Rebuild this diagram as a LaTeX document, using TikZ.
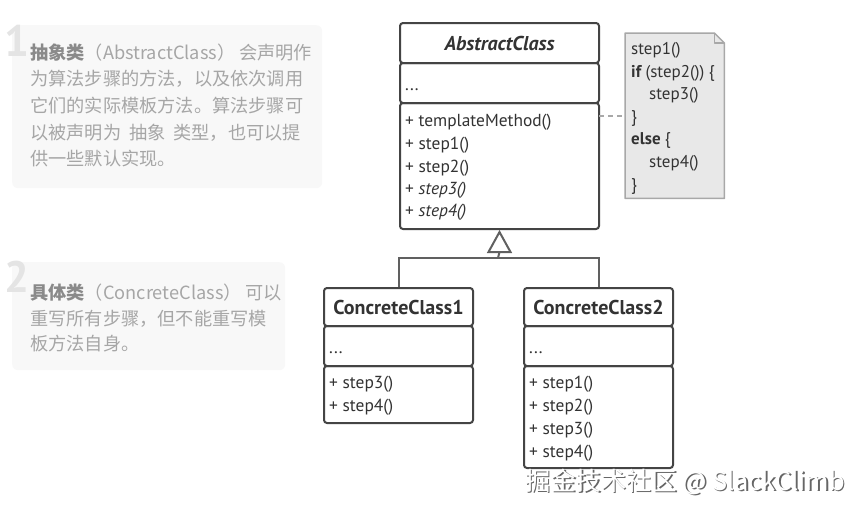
\documentclass[tikz,border=0pt]{standalone}
\usepackage{fontspec}
\setmainfont{PT Sans}
\newfontfamily\cjk{Noto Sans CJK SC}
\usetikzlibrary{arrows.meta}
\definecolor{boxline}{HTML}{444444}
\definecolor{txt}{HTML}{333333}
\definecolor{notefill}{HTML}{E8E8E8}
\definecolor{noteline}{HTML}{A8A8A8}
\definecolor{panel}{HTML}{F8F8F8}
\definecolor{paneltxt}{HTML}{A6A6A6}
\definecolor{panelhead}{HTML}{8A8A8A}
\definecolor{bignum}{HTML}{E4E4E4}
\tikzset{
  sect/.style={draw=boxline, line width=2pt, rounded corners=3pt, fill=white, inner sep=0pt, anchor=north west, text=txt},
  title/.style={font=\fontsize{20}{24}\selectfont\bfseries},
  mem/.style={anchor=base west, inner sep=0pt, text=txt, font=\fontsize{17.4}{20}\selectfont},
  notetxt/.style={anchor=base west, inner sep=0pt, text=txt, font=\fontsize{17}{20}\selectfont},
  ptxt/.style={anchor=base west, inner sep=0pt, text=paneltxt, font=\cjk\fontsize{18.2}{21}\selectfont},
  num/.style={anchor=north west, inner sep=0pt, text=bignum, font=\fontsize{44}{44}\selectfont\bfseries},
  panelbox/.style={fill=panel, rounded corners=6pt, draw=none},
  link/.style={draw=boxline!85, line width=2pt},
  wm/.style={anchor=base west, inner sep=0pt, font=\cjk\fontsize{25.3}{28}\selectfont}
}
\begin{document}
\begin{tikzpicture}[x=1pt,y=-1pt]
\useasboundingbox[fill=white] (0,0) rectangle (859,507);
% panels
\node[panelbox, anchor=north west, minimum width=310pt, minimum height=163pt] (p1) at (12,25) {};
\node[panelbox, anchor=north west, minimum width=273pt, minimum height=108pt] (p2) at (12,262) {};
\node[num] (n1) at (4,25) {1};
\node[num] (n2) at (4,261) {2};
\node[ptxt] (t11) at (30,59) {\textcolor{panelhead}{\bfseries 抽象类}（AbstractClass） 会声明作};
\node[ptxt] (t12) at (30,85) {为算法步骤的方法，以及依次调用};
\node[ptxt] (t13) at (30,112) {它们的实际模板方法。算法步骤可};
\node[ptxt] (t14) at (30,139) {以被声明为\hspace{8pt}抽象\hspace{8pt}类型，也可以提};
\node[ptxt] (t15) at (30,165) {供一些默认实现。};
\node[ptxt] (t21) at (30,299) {\textcolor{panelhead}{\bfseries 具体类}（ConcreteClass） 可以};
\node[ptxt] (t22) at (30,325) {重写所有步骤，但不能重写模};
\node[ptxt] (t23) at (30,350) {板方法自身。};
% Abstract class
\node[sect, minimum width=199pt, minimum height=126pt] (acm) at (399,102) {};
\node[sect, minimum width=199pt, minimum height=40pt] (aca) at (399,62) {};
\node[sect, minimum width=199pt, minimum height=40pt, title, anchor=north west] (act) at (399,22) {\itshape AbstractClass};
\node[mem] (aa1) at (405,90) {...};
\node[mem] (am1) at (405,126) {+ templateMethod()};
\node[mem] (am2) at (405,149) {+ step1()};
\node[mem] (am3) at (405,172) {+ step2()};
\node[mem] (am4) at (405,194) {+ \itshape step3()};
\node[mem] (am5) at (405,216) {+ \itshape step4()};
% note
\node[inner sep=0pt, anchor=north west, minimum width=99pt, minimum height=165pt] (note) at (625,33) {};
\draw[fill=notefill, draw=noteline, line width=1.5pt, line join=round]
  (note.north west) -- ([xshift=-10pt]note.north east) -- ([yshift=-10pt]note.north east) -- (note.south east) -- (note.south west) -- cycle;
\draw[draw=noteline, line width=1.5pt, line join=round]
  ([xshift=-10pt]note.north east) -- ([xshift=-10pt,yshift=-10pt]note.north east) -- ([yshift=-10pt]note.north east);
\node[notetxt] (nt1) at (631,54) {step1()};
\node[notetxt] (nt2) at (631,77) {\bfseries if \mdseries(step2()) \{};
\node[notetxt] (nt3) at (649,99) {step3()};
\node[notetxt] (nt4) at (631,122) {\}};
\node[notetxt] (nt5) at (631,144) {\bfseries else \mdseries\{};
\node[notetxt] (nt6) at (649,167) {step4()};
\node[notetxt] (nt7) at (631,190) {\}};
\coordinate (dl) at (599,116);
\draw[draw=noteline, line width=1.5pt, dash pattern=on 5pt off 4pt] (dl) -- (note.west |- dl);
% concrete 1
\node[sect, minimum width=149pt, minimum height=57pt] (c1m) at (323,365) {};
\node[sect, minimum width=149pt, minimum height=40pt] (c1a) at (323,325) {};
\node[sect, minimum width=149pt, minimum height=38pt, title] (c1t) at (323,287) {ConcreteClass1};
\node[mem] (c1a1) at (329,353) {...};
\node[mem] (c1m1) at (329,388) {+ step3()};
\node[mem] (c1m2) at (329,411) {+ step4()};
% concrete 2
\node[sect, minimum width=149pt, minimum height=102pt] (c2m) at (523,365) {};
\node[sect, minimum width=149pt, minimum height=40pt] (c2a) at (523,325) {};
\node[sect, minimum width=149pt, minimum height=38pt, title] (c2t) at (523,287) {ConcreteClass2};
\node[mem] (c2a1) at (529,353) {...};
\node[mem] (c2m1) at (529,388) {+ step1()};
\node[mem] (c2m2) at (529,411) {+ step2()};
\node[mem] (c2m3) at (529,434) {+ step3()};
\node[mem] (c2m4) at (529,457) {+ step4()};
% inheritance
\coordinate (mid) at (498,258);
\coordinate (tip) at ([yshift=-2pt]acm.south);
\coordinate (tbase) at ([yshift=-20pt]tip);
\draw[link] (c1t.north) |- (mid) -| (c2t.north);
\draw[link] (mid) -- (tbase);
\draw[link, fill=white, line join=miter] (tip) -- ([xshift=11pt]tbase) -- ([xshift=-11pt]tbase) -- cycle;
% watermark
\node[wm, text=black!60] (wms) at (526.5,491.5) {掘金技术社区 @ SlackClimb};
\node[wm, text=white] (wmt) at (525,490) {掘金技术社区 @ SlackClimb};
\end{tikzpicture}
\end{document}
